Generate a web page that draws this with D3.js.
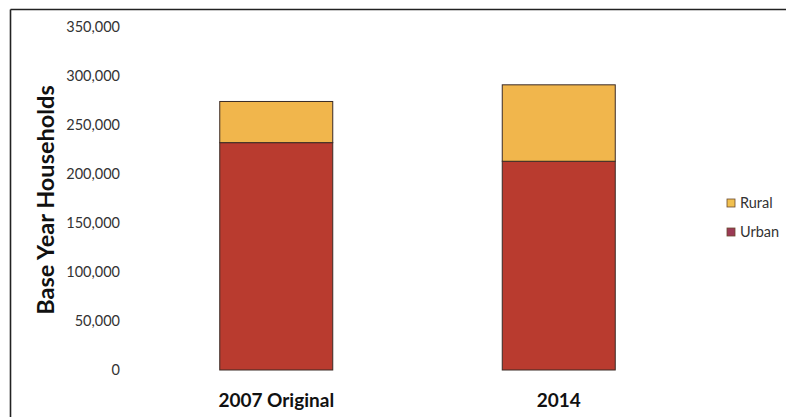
<!DOCTYPE html>
<html><head><meta charset="utf-8">
<script src="https://cdn.jsdelivr.net/npm/d3@7"></script>
<style>
html,body{margin:0;padding:0;background:#fff;}
svg{display:block;font-family:Lato,"Open Sans",sans-serif;}
</style></head>
<body>
<svg id="chart" width="786" height="417"></svg>
<script>
const categories = ["2007 Original", "2014"];
const seriesNames = ["Urban", "Rural"];
const urban = [232000, 213000];
const rural = [42000, 78000];
const yTicks = [0, 50000, 100000, 150000, 200000, 250000, 300000, 350000];
const colors = {Urban: "#b93b2f", Rural: "#f1b64c"};
const legendColors = {Urban: "#9b3a55", Rural: "#f1c04f"};

const svg = d3.select("#chart");
// frame
svg.append("line").attr("x1",10.5).attr("x2",786).attr("y1",9.5).attr("y2",9.5).attr("stroke","#222").attr("stroke-width",1.6);
svg.append("line").attr("x1",10.5).attr("x2",10.5).attr("y1",9.5).attr("y2",417).attr("stroke","#222").attr("stroke-width",1.6);

const y = d3.scaleLinear().domain([0,350000]).range([370,27]);
const x = d3.scaleBand().domain(categories).range([135,700]).paddingInner(0.6).paddingOuter(0.3);

const data = categories.map((c,i)=>({cat:c, Urban:urban[i], Rural:rural[i]}));
const stack = d3.stack().keys(seriesNames)(data);

const yAxis = d3.axisLeft(y).tickValues(yTicks).tickFormat(d3.format(",")).tickSize(0).tickPadding(0);
const ga = svg.append("g").attr("transform","translate(120,0)").call(yAxis);
ga.select(".domain").remove();
ga.selectAll("text").attr("font-size",14.5).attr("fill","#333").attr("font-family","Lato, sans-serif");

svg.append("g").selectAll("g").data(stack).join("g")
  .attr("fill", d=>colors[d.key])
  .selectAll("rect").data(d=>d).join("rect")
  .attr("x", d=>x(d.data.cat))
  .attr("width", x.bandwidth())
  .attr("y", d=>y(d[1]))
  .attr("height", d=>y(d[0])-y(d[1]))
  .attr("stroke","#3a2a25").attr("stroke-width",1);

svg.append("g").selectAll("text").data(categories).join("text")
  .attr("x", d=>x(d)+x.bandwidth()/2).attr("y",407)
  .attr("text-anchor","middle").attr("font-weight","bold").attr("font-size",19).attr("fill","#111")
  .text(d=>d);

svg.append("text").attr("transform","translate(54,200) rotate(-90)")
  .attr("text-anchor","middle").attr("font-weight","bold").attr("font-size",23.5).attr("fill","#111")
  .text("Base Year Households");

const legendItems = ["Rural","Urban"];
const lg = svg.append("g").selectAll("g").data(legendItems).join("g")
  .attr("transform",(d,i)=>`translate(727,${199+i*29})`);
lg.append("rect").attr("width",8).attr("height",8).attr("fill",d=>legendColors[d]).attr("stroke","#6a4a30").attr("stroke-width",0.8);
lg.append("text").attr("x",13).attr("y",9).attr("font-size",14.5).attr("fill","#333").text(d=>d);
</script>
</body></html>
